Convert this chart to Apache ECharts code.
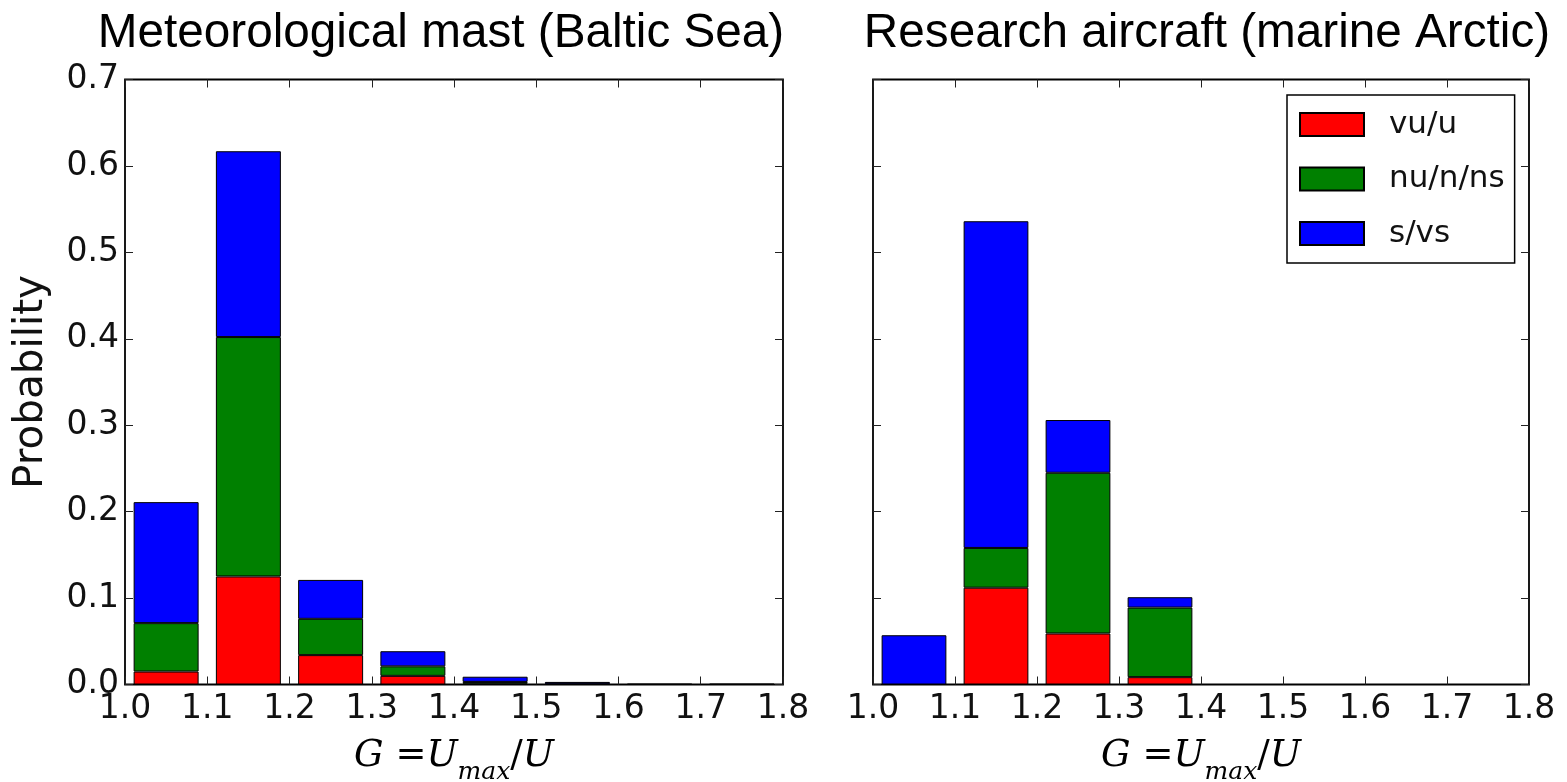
<!DOCTYPE html>
<html>
<head>
<meta charset="utf-8">
<script src="https://cdn.jsdelivr.net/npm/echarts@6/dist/echarts.min.js"></script>
<style>
html,body{margin:0;padding:0;background:#fff;}
#chart{width:1567px;height:782px;}
</style>
</head>
<body>
<div id="chart"></div>
<script>
// ---- data ----
const bins = ['1.0-1.1','1.1-1.2','1.2-1.3','1.3-1.4','1.4-1.5','1.5-1.6','1.6-1.7','1.7-1.8'];
const xTickMin = 1.0, xTickMax = 1.8, xTickStep = 0.1;
const yTickMin = 0.0, yTickMax = 0.7, yTickStep = 0.1;
const seriesNames = ['vu/u', 'nu/n/ns', 's/vs'];
const titles = ['Meteorological mast (Baltic Sea)', 'Research aircraft (marine Arctic)'];

const mastVU = [0.015, 0.125, 0.034, 0.010, 0.001, 0.0005, 0, 0];
const mastNU = [0.056, 0.277, 0.042, 0.011, 0.002, 0.0005, 0, 0];
const mastS  = [0.140, 0.215, 0.045, 0.0175, 0.006, 0.002, 0.0007, 0.0007];

const airVU = [0, 0.112, 0.059, 0.0085, 0, 0, 0, 0];
const airNU = [0, 0.046, 0.186, 0.0805, 0, 0, 0, 0];
const airS  = [0.057, 0.378, 0.061, 0.012, 0, 0, 0, 0];

const colors = ['#ff0000', '#008000', '#0000ff'];

// ---- chart ----
const chart = echarts.init(document.getElementById('chart'), null, {renderer: 'canvas'});

const tickFont = 'DejaVu Sans';
const grids = [
  {left: 125, top: 79.5, width: 658, height: 605},
  {left: 873, top: 79.5, width: 656, height: 605}
];

const xName = '{i|G}{n| =}{i|U}{s|max}{n|/}{i|U}';
const xNameRich = {
  i: {fontFamily: 'DejaVu Serif', fontStyle: 'italic', fontSize: 37, color: '#000'},
  n: {fontFamily: 'DejaVu Serif', fontSize: 37, color: '#000'},
  s: {fontFamily: 'DejaVu Serif', fontStyle: 'italic', fontSize: 25, color: '#000', padding: [32, 0, 0, 0]}
};

const xAxes = [];
const yAxes = [];
grids.forEach((g, gi) => {
  xAxes.push({type: 'category', gridIndex: gi, data: bins, show: false, boundaryGap: true});
});
grids.forEach((g, gi) => {
  xAxes.push({
    type: 'value', gridIndex: gi, position: 'bottom', min: xTickMin, max: xTickMax, interval: xTickStep,
    axisLine: {show: false},
    axisTick: {show: true, inside: true, length: 8, lineStyle: {color: '#222', width: 1}},
    splitLine: {show: false},
    axisLabel: {show: true, fontFamily: tickFont, fontSize: 33, color: '#111', margin: 8,
      formatter: v => v.toFixed(1)},
    name: xName, nameLocation: 'middle', nameGap: 43,
    nameTextStyle: {rich: xNameRich}
  });
});
grids.forEach((g, gi) => {
  xAxes.push({
    type: 'value', gridIndex: gi, position: 'top', min: xTickMin, max: xTickMax, interval: xTickStep,
    axisLine: {show: false},
    axisTick: {show: true, inside: true, length: 8, lineStyle: {color: '#222', width: 1}},
    splitLine: {show: false}, axisLabel: {show: false}
  });
});
grids.forEach((g, gi) => {
  yAxes.push({
    type: 'value', gridIndex: gi, position: 'left', min: yTickMin, max: yTickMax, interval: yTickStep,
    axisLine: {show: false},
    axisTick: {show: true, inside: true, length: 8, lineStyle: {color: '#222', width: 1}},
    splitLine: {show: false},
    axisLabel: {show: gi === 0, fontFamily: tickFont, fontSize: 33, color: '#111', margin: 6,
      formatter: v => v.toFixed(1)},
    name: gi === 0 ? 'Probability' : '', nameLocation: 'middle', nameGap: 73,
    nameTextStyle: {fontFamily: tickFont, fontSize: 40.5, color: '#111'}
  });
});
grids.forEach((g, gi) => {
  yAxes.push({
    type: 'value', gridIndex: gi, position: 'right', min: yTickMin, max: yTickMax, interval: yTickStep,
    axisLine: {show: false},
    axisTick: {show: true, inside: true, length: 8, lineStyle: {color: '#222', width: 1}},
    splitLine: {show: false}, axisLabel: {show: false}
  });
});

const panelData = [[mastVU, mastNU, mastS], [airVU, airNU, airS]];
const series = [];
panelData.forEach((arrs, gi) => {
  arrs.forEach((arr, si) => {
    series.push({
      name: seriesNames[si], type: 'bar', stack: 'p' + gi,
      xAxisIndex: gi, yAxisIndex: gi,
      data: arr, barCategoryGap: '21%',
      itemStyle: {color: colors[si], borderColor: '#000', borderWidth: 1},
      emphasis: {disabled: true}, animation: false
    });
  });
});

const titleStyle = {fontFamily: 'Liberation Sans', fontSize: 47.7, fontWeight: 'normal', color: '#000', lineHeight: 48};
chart.setOption({
  animation: false,
  backgroundColor: '#fff',
  title: [
    {text: titles[0], left: 441, top: 10, textAlign: 'center', padding: 0, textStyle: titleStyle},
    {text: titles[1], left: 1207, top: 10, textAlign: 'center', padding: 0, textStyle: titleStyle}
  ],
  legend: {
    data: seriesNames, orient: 'vertical', left: 1287, top: 95, icon: 'rect',
    padding: [14, 10, 14, 12], itemGap: 23.5, itemWidth: 64, itemHeight: 23,
    borderColor: '#000', borderWidth: 1.5, backgroundColor: '#fff',
    textStyle: {fontFamily: tickFont, fontSize: 31, color: '#111', lineHeight: 23, padding: [0, 0, 0, 20]},
    selectedMode: false
  },
  grid: grids.map(g => Object.assign({show: true, borderColor: '#000', borderWidth: 1.8, backgroundColor: 'transparent', containLabel: false, outerBoundsMode: 'none'}, g)),
  xAxis: xAxes,
  yAxis: yAxes,
  series: series
});
</script>
</body>
</html>
